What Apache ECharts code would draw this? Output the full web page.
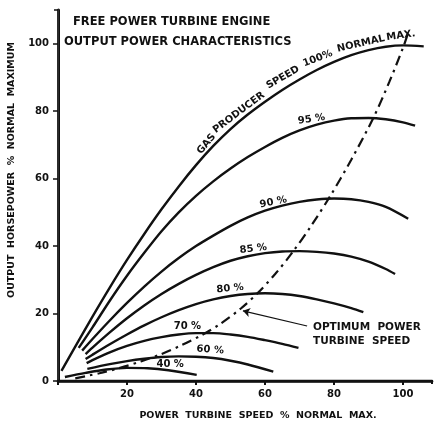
<!DOCTYPE html>
<html>
<head>
<meta charset="utf-8">
<title>Free Power Turbine Engine – Output Power Characteristics</title>
<script src="https://cdn.jsdelivr.net/npm/echarts@6/dist/echarts.min.js"></script>
<style>
  html, body { margin: 0; padding: 0; background: #fff; }
  #chart { width: 435px; height: 428px; }
</style>
</head>
<body>
<div id="chart"></div>
<script>
// Power turbine speed (% normal max) vs output horsepower (% normal max),
// one curve per gas producer speed.
const gasProducerSpeeds = ['100%', '95%', '90%', '85%', '80%', '70%', '60%', '40%'];

const gp100 = [[1,3],[5,10.2],[10,19.1],[15,27.7],[20,35.9],[25,43.6],[30,50.9],[35,57.7],[40,64],[45,69.7],[50,74.7],[55,79],[60,82.8],[65,86.3],[70,89.4],[75,92.2],[80,94.6],[85,96.6],[90,98.1],[95,99.1],[100,99.5],[106,99.2]];
const gp95  = [[6,9.8],[10,15.9],[15,23.8],[20,31.2],[25,38],[30,44.4],[35,50],[40,54.9],[45,59.2],[50,63],[55,66.4],[60,69.4],[65,72.1],[70,74.3],[75,76],[80,77.2],[85,77.9],[90,78],[95,77.6],[100,76.7],[103.5,75.7]];
const gp90  = [[7,9],[10,12.45],[15,17.95],[20,23.15],[25,28],[30,32.45],[35,36.45],[40,40],[45,43.1],[50,46],[55,48.5],[60,50.5],[65,52],[70,53.1],[75,53.8],[80,54.1],[85,53.9],[90,53.1],[95,51.6],[101.5,48.1]];
const gp85  = [[8,8],[10,9.9],[15,14.4],[20,18.6],[25,22.4],[30,25.8],[35,28.8],[40,31.45],[45,33.75],[50,35.65],[55,37],[60,37.9],[65,38.4],[70,38.5],[75,38.3],[80,37.8],[85,36.9],[90,35.4],[95,33.2],[97.7,31.7]];
const gp80  = [[8,6.5],[10,7.8],[15,10.9],[20,13.8],[25,16.5],[30,18.9],[35,21],[40,22.8],[45,24.2],[50,25.2],[55,25.8],[60,26],[65,25.8],[70,25.2],[75,24.2],[80,23],[85,21.6],[88.5,20.4]];
const gp70  = [[8.3,5.3],[10,6.2],[15,8.5],[20,10.4],[25,11.9],[30,13],[35,13.8],[40,14.2],[45,14.2],[50,13.8],[55,13.1],[60,12.1],[65,11],[69.7,9.8]];
const gp60  = [[8.5,3.6],[15,5],[20,5.9],[25,6.6],[30,7.1],[35,7.3],[40,7.2],[45,6.8],[50,6],[55,4.9],[62.4,2.8]];
const gp40  = [[2,1.2],[8,2.4],[14,3.4],[20,3.9],[26,3.8],[32,3.2],[40.2,1.8]];

// Optimum power turbine speed line
const optimumSpeed = [[5,0.8],[12,2.3],[18,3.9],[24,5.8],[30,8],[36,10.7],[42,13.8],[47,16.9],[53,21.5],[58,26.2],[63,31.8],[68,38.2],[73.5,46.2],[79,55],[85,65.6],[91.4,78],[96,88.6],[100,98.8],[101.3,102.6]];

// Axis ticks
const xTicks = [20, 40, 60, 80, 100];
const yTicks = [0, 20, 40, 60, 80, 100];

const curves = [gp100, gp95, gp90, gp85, gp80, gp70, gp60, gp40];

const FONT = '"DejaVu Sans", "Liberation Sans", sans-serif';
const INK = '#111';

// Where each annotation sits (data units) and how it is turned.
const curveTags = [
  { at: [73.5, 77.6], text: '95 %', rot: 8 },
  { at: [62.4, 53.0], text: '90 %', rot: 11 },
  { at: [56.6, 39.2], text: '85 %', rot: 7 },
  { at: [49.9, 27.4], text: '80 %', rot: 6 },
  { at: [37.5, 16.2], text: '70 %', rot: 0 },
  { at: [44.1, 9.2],  text: '60 %', rot: -4 },
  { at: [32.5, 4.8],  text: '40 %', rot: 0 }
];
const topCurveWords = [
  { at: [43.0, 70.3], text: 'GAS', rot: 50 },
  { at: [52.4, 79.6], text: 'PRODUCER', rot: 37 },
  { at: [65.2, 90.0], text: 'SPEED', rot: 30 },
  { at: [75.3, 95.6], text: '100%', rot: 21 },
  { at: [87.8, 100.0], text: 'NORMAL', rot: 13 },
  { at: [99.4, 102.4], text: 'MAX.', rot: 8 }
];
const arrowPath = [[72.2, 16.3], [53.6, 20.8]];
const calloutAt = [73.9, 14.0];

const xMax = 108.4, yMax = 110;

const baseLine = { color: INK, width: 2.4 };

const series = curves.map((pts, i) => ({
  name: gasProducerSpeeds[i],
  type: 'line',
  data: pts,
  smooth: 0.3,
  showSymbol: false,
  lineStyle: baseLine,
  z: 3
}));

series.push({
  name: 'Optimum power turbine speed',
  type: 'line',
  data: optimumSpeed,
  smooth: 0.3,
  showSymbol: false,
  lineStyle: { color: INK, width: 2.2, type: [10, 5, 2.5, 5] },
  z: 4
});

series.push({
  type: 'lines',
  coordinateSystem: 'cartesian2d',
  data: [{ coords: arrowPath }],
  symbol: ['none', 'arrow'],
  symbolSize: [0, 7],
  lineStyle: { color: INK, width: 1.2, opacity: 1 },
  z: 4
});

const tagFont = { fontFamily: FONT, fontWeight: 'bold', fontSize: 10, color: INK, opacity: 1 };

series.push({
  type: 'scatter',
  symbolSize: 0,
  silent: true,
  z: 5,
  itemStyle: { opacity: 1 },
  data: curveTags.concat(topCurveWords).map(t => ({
    value: t.at,
    label: {
      show: true, position: 'inside', formatter: t.text, rotate: t.rot,
      align: 'center', verticalAlign: 'middle', ...tagFont
    }
  })).concat([{
    value: calloutAt,
    label: {
      show: true, position: 'inside', formatter: 'OPTIMUM  POWER\nTURBINE  SPEED',
      align: 'left', verticalAlign: 'middle', lineHeight: 14, ...tagFont, fontSize: 10.5
    }
  }])
});

const axisLabelStyle = { fontFamily: FONT, fontWeight: 'bold', fontSize: 10, color: INK };

const option = {
  backgroundColor: '#fff',
  animation: false,
  grid: { left: 58, right: 3, top: 10, bottom: 47 },
  xAxis: [{
    type: 'value', min: 0, max: xMax, interval: 20,
    splitLine: { show: false },
    axisLine: { lineStyle: { color: INK, width: 2.6 } },
    axisTick: { show: true, length: 4, lineStyle: { color: INK, width: 2 } },
    axisLabel: {
      margin: 8, showMaxLabel: false, ...axisLabelStyle,
      formatter: v => (xTicks.indexOf(v) >= 0 ? String(v) : '')
    }
  }, {
    type: 'value', position: 'top', min: 0, max: xMax, interval: 20,
    splitLine: { show: false },
    axisLine: { show: true, lineStyle: { color: INK, width: 2.4 } },
    axisTick: { show: true, inside: true, length: 3, lineStyle: { color: INK, width: 2 } },
    axisLabel: { show: false }
  }],
  yAxis: [{
    type: 'value', min: 0, max: yMax, interval: 20,
    splitLine: { show: false },
    axisLine: { show: true, lineStyle: { color: INK, width: 3 } },
    axisTick: { show: true, length: 5, lineStyle: { color: INK, width: 1.5 } },
    axisLabel: {
      margin: 9, showMaxLabel: false, ...axisLabelStyle,
      formatter: v => (yTicks.indexOf(v) >= 0 ? String(v) : '')
    }
  }, {
    type: 'value', position: 'right', min: 0, max: yMax, interval: 20,
    splitLine: { show: false },
    axisLine: { show: true, lineStyle: { color: '#333', width: 1.6 } },
    axisTick: { show: true, inside: true, length: 4, lineStyle: { color: INK, width: 1.5 } },
    axisLabel: { show: false }
  }],
  graphic: [
    {
      type: 'text', left: 73, top: 16, silent: true,
      style: { text: 'FREE POWER TURBINE ENGINE', font: 'bold 11.5px ' + FONT, fill: INK }
    },
    {
      type: 'text', left: 64, top: 36, silent: true,
      style: { text: 'OUTPUT POWER CHARACTERISTICS', font: 'bold 11.5px ' + FONT, fill: INK }
    },
    {
      type: 'text', x: 12, y: 170, rotation: Math.PI / 2, silent: true,
      style: {
        text: 'OUTPUT  HORSEPOWER  %  NORMAL  MAXIMUM', font: 'bold 9.5px ' + FONT, fill: INK,
        align: 'center', verticalAlign: 'middle'
      }
    },
    {
      type: 'text', x: 258, y: 416, silent: true,
      style: {
        text: 'POWER  TURBINE  SPEED  %  NORMAL  MAX.', font: 'bold 9.5px ' + FONT, fill: INK,
        align: 'center', verticalAlign: 'middle'
      }
    }
  ],
  series: series
};

const chart = echarts.init(document.getElementById('chart'), null, { renderer: 'canvas' });
chart.setOption(option);
</script>
</body>
</html>
